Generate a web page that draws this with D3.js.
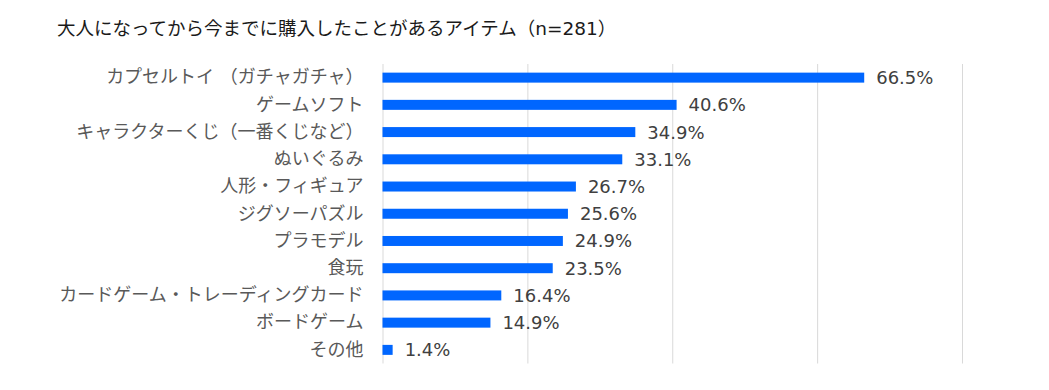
<!DOCTYPE html>
<html>
<head>
<meta charset="utf-8">
<script src="https://cdn.jsdelivr.net/npm/d3@7"></script>
<style>
    body { margin: 0; background: #fff; }
    text { font-family: "DejaVu Sans", "Noto Sans CJK JP", sans-serif; }
</style>
</head>
<body>
<svg width="1049" height="390"></svg>
<script>
const title = '大人になってから今までに購入したことがあるアイテム（n=281）';

const categories = [
    'カプセルトイ （ガチャガチャ）',
    'ゲームソフト',
    'キャラクターくじ（一番くじなど）',
    'ぬいぐるみ',
    '人形・フィギュア',
    'ジグソーパズル',
    'プラモデル',
    '食玩',
    'カードゲーム・トレーディングカード',
    'ボードゲーム',
    'その他'
];
const values = [66.5, 40.6, 34.9, 33.1, 26.7, 25.6, 24.9, 23.5, 16.4, 14.9, 1.4];
const xTicks = [0, 20, 40, 60, 80];

const svg = d3.select('svg');
const width = +svg.attr('width');
const height = +svg.attr('height');

svg.append('rect')
    .attr('width', width)
    .attr('height', height)
    .attr('fill', '#fff');

const margin = { top: 64, right: 87, bottom: 26.5, left: 382.5 };
const innerWidth = width - margin.left - margin.right;
const innerHeight = height - margin.top - margin.bottom;

const data = categories.map((c, i) => ({ name: c, value: values[i] }));

const g = svg.append('g')
    .attr('transform', `translate(${margin.left},${margin.top})`);

const xScale = d3.scaleLinear()
    .domain([0, 80])
    .range([0, innerWidth]);

const yScale = d3.scaleBand()
    .domain(categories)
    .range([0, innerHeight])
    .paddingInner(0.633)
    .paddingOuter(0.317);

// gridlines (no tick labels in the original)
const xAxis = d3.axisBottom(xScale)
    .tickValues(xTicks)
    .tickSize(innerHeight)
    .tickFormat('');

g.append('g')
    .attr('class', 'grid')
    .call(xAxis)
    .call(ax => ax.select('.domain').remove())
    .call(ax => ax.selectAll('.tick text').remove())
    .call(ax => ax.selectAll('line').attr('stroke', '#d9d9d9').attr('stroke-width', 1));

g.selectAll('.bar')
    .data(data)
    .enter()
    .append('rect')
    .attr('class', 'bar')
    .attr('x', 0)
    .attr('y', d => yScale(d.name))
    .attr('width', d => xScale(d.value))
    .attr('height', yScale.bandwidth())
    .attr('fill', '#0066ff');

g.selectAll('.value-label')
    .data(data)
    .enter()
    .append('text')
    .attr('class', 'value-label')
    .attr('x', d => xScale(d.value) + 12)
    .attr('y', d => yScale(d.name) + yScale.bandwidth() / 2)
    .attr('dy', '0.36em')
    .attr('font-size', '18px')
    .attr('fill', '#404040')
    .text(d => d.value.toFixed(1) + '%');

// category labels
const yAxis = d3.axisLeft(yScale).tickSize(0).tickPadding(19);
g.append('g')
    .attr('class', 'y-axis')
    .call(yAxis)
    .call(ax => ax.select('.domain').remove())
    .call(ax => ax.selectAll('text')
        .attr('font-size', '18px')
        .attr('font-family', '"DejaVu Sans", "Noto Sans CJK JP", sans-serif')
        .attr('fill', '#595959'));

svg.append('text')
    .attr('class', 'title-label')
    .attr('x', 57)
    .attr('y', 35)
    .attr('font-size', '18.5px')
    .attr('fill', '#1a1a1a')
    .text(title);
</script>
</body>
</html>
